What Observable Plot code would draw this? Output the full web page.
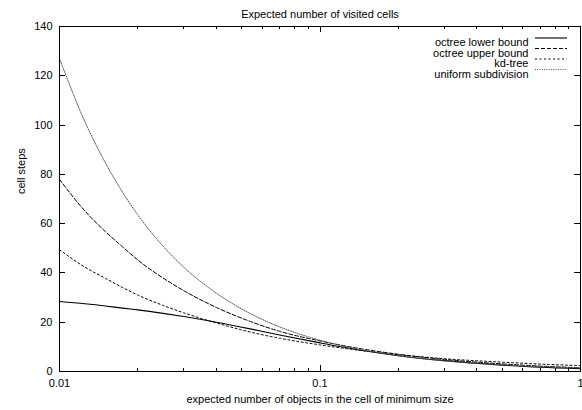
<!DOCTYPE html>
<html><head><meta charset="utf-8">
<script src="https://cdn.jsdelivr.net/npm/d3@7"></script>
<script src="https://cdn.jsdelivr.net/npm/@observablehq/plot@0.6"></script>
<style>body{margin:0;background:#fff} svg{display:block}</style>
</head><body><div id="chart"></div>
<script>
const title = "Expected number of visited cells";
const xLabel = "expected number of objects in the cell of minimum size";
const yLabel = "cell steps";
const seriesNames = ["octree lower bound", "octree upper bound", "kd-tree", "uniform subdivision"];
const xValues = [0.01, 0.0125, 0.015, 0.0175, 0.02, 0.025, 0.03, 0.04, 0.054, 0.07, 0.1, 0.15, 0.2, 0.3, 0.5, 0.7, 1];
const octreeLower = [28.4, 27.5, 26.6, 25.7, 25.0, 23.6, 22.3, 20.0, 17.3, 14.8, 11.6, 8.3, 6.4, 4.4, 2.6, 1.7, 1.1];
const octreeUpper = [78, 65.2, 56.8, 50.5, 45.2, 37.9, 32.8, 26.0, 20.3, 16.3, 12.4, 8.9, 7.0, 4.9, 3.1, 2.2, 1.5];
const kdTree = [49.4, 42.4, 37.8, 34.0, 31.0, 26.8, 23.8, 19.7, 16.0, 13.5, 10.8, 8.3, 6.8, 5.2, 3.8, 3.0, 2.4];
const uniformSub = [127, 101.5, 84.7, 72.6, 63.5, 50.8, 42.3, 31.8, 23.5, 18.1, 12.7, 8.5, 6.4, 4.3, 2.7, 2.0, 1.5];
const xTicks = [0.01, 0.1, 1];
const xTickLabels = ["0.01", "0.1", "1"];
const xMinorTicks = [0.02,0.03,0.04,0.05,0.06,0.07,0.08,0.09,0.2,0.3,0.4,0.5,0.6,0.7,0.8,0.9];
const yTicks = [0, 20, 40, 60, 80, 100, 120, 140];

(function () {
const seriesValues = [octreeLower, octreeUpper, kdTree, uniformSub];
const dashes = [null, "4,2", "2,2.5", "1,1.3"];
const strokes = ["#000", "#000", "#000", "#555"];
const widths = [1.1, 1, 1, 1];

const font = "'Liberation Sans', Arial, Helvetica, sans-serif";
const labelMap = new Map(xTicks.map((t, i) => [t, xTickLabels[i]]));

const lineMarks = seriesNames.map((name, i) => Plot.line(
  xValues.map((x, j) => ({x, y: seriesValues[i][j]})),
  {x: "x", y: "y", stroke: strokes[i], strokeWidth: widths[i], strokeDasharray: dashes[i], curve: "monotone-x"}
));

const legendMarks = seriesNames.map((name, i) => Plot.text([name], {
  frameAnchor: "top-right", dx: -52, dy: 12 + i * 10.5, textAnchor: "end", fill: "#000"
}));

const plot = Plot.plot({
  width: 582, height: 410,
  marginLeft: 59, marginRight: 2, marginTop: 26, marginBottom: 39,
  style: {fontFamily: font, fontSize: "11px", background: "#fff", color: "#000"},
  x: {type: "log", domain: [0.01, 1]},
  y: {domain: [0, 140]},
  marks: [
    Plot.axisX(xTicks, {tickSize: 0, tickPadding: 8, tickFormat: d => labelMap.get(d), label: null, fontSize: 11}),
    Plot.axisY(yTicks, {tickSize: 0, tickPadding: 7, label: null, fontSize: 11}),
    ...lineMarks,
    Plot.frame({stroke: "#000", strokeWidth: 1}),
    Plot.text([title], {frameAnchor: "top", dy: -16, fill: "#000"}),
    Plot.text([xLabel], {frameAnchor: "bottom", dy: 31, fill: "#000"}),
    Plot.text([yLabel], {frameAnchor: "left", dx: -38, dy: -5, rotate: -90, fill: "#000"}),
    ...legendMarks
  ]
});

document.getElementById("chart").appendChild(plot);

const sx = plot.scale("x"), sy = plot.scale("y");
const svg = d3.select(plot);
const g = svg.append("g").attr("stroke", "#000").attr("stroke-width", 1).attr("fill", "none");
const yTop = sy.apply(140), yBottom = sy.apply(0), xLeft = sx.apply(0.01), xRight = sx.apply(1);
function vtick(x, len) {
  g.append("line").attr("x1", x).attr("x2", x).attr("y1", yBottom).attr("y2", yBottom - len);
  g.append("line").attr("x1", x).attr("x2", x).attr("y1", yTop).attr("y2", yTop + len);
}
xTicks.forEach(t => vtick(Math.round(sx.apply(t)) + 0.5, 6));
xMinorTicks.forEach(t => vtick(Math.round(sx.apply(t)) + 0.5, 3));
yTicks.forEach(t => {
  const y = Math.round(sy.apply(t)) + 0.5;
  g.append("line").attr("x1", xLeft).attr("x2", xLeft + 6).attr("y1", y).attr("y2", y);
  g.append("line").attr("x1", xRight).attr("x2", xRight - 6).attr("y1", y).attr("y2", y);
});
seriesNames.forEach((name, i) => {
  const y = yTop + 12 + i * 10.5;
  g.append("line").attr("x1", xRight - 45).attr("x2", xRight - 13).attr("y1", y).attr("y2", y)
    .attr("stroke", strokes[i]).attr("stroke-width", widths[i]).attr("stroke-dasharray", dashes[i]);
});
})();
</script>
</body></html>
